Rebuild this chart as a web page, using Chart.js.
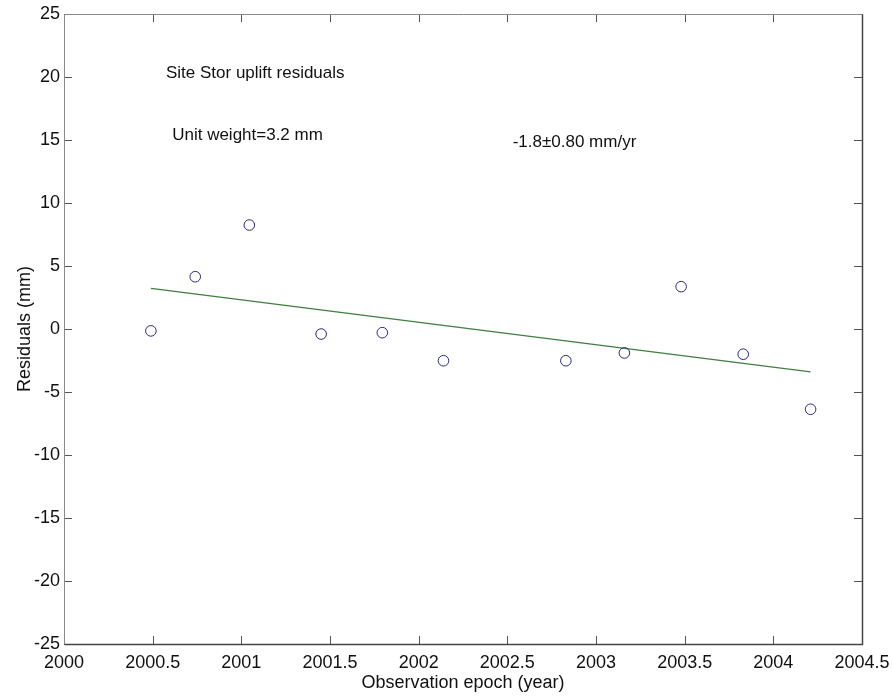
<!DOCTYPE html>
<html>
<head>
<meta charset="utf-8">
<script src="https://cdn.jsdelivr.net/npm/chart.js@4.4.1/dist/chart.umd.min.js"></script>
<style>
  html, body { margin: 0; padding: 0; background: #fff; }
  #wrap { width: 892px; height: 699px; }
</style>
</head>
<body>
<div id="wrap"><canvas id="c" width="892" height="699"></canvas></div>
<script>
// Observation epochs (decimal year) and uplift residuals (mm) for site Stor
const epochs    = [2000.49, 2000.74, 2001.045, 2001.45, 2001.795, 2002.14, 2002.83, 2003.16, 2003.48, 2003.83, 2004.21];
const residuals = [-0.15, 4.15, 8.25, -0.40, -0.29, -2.52, -2.52, -1.90, 3.36, -2.00, -6.37];

// Fitted linear trend, evaluated at the first and last epoch
const trendEpochs = [2000.49, 2004.21];
const trendValues = [3.23, -3.41];

// Axis ticks
const xTicks = [2000, 2000.5, 2001, 2001.5, 2002, 2002.5, 2003, 2003.5, 2004, 2004.5];
const yTicks = [-25, -20, -15, -10, -5, 0, 5, 10, 15, 20, 25];

// Text notes inside the plot, anchored in data coordinates
const noteTexts  = ['Site Stor uplift residuals', 'Unit weight=3.2 mm', '-1.8\u00b10.80 mm/yr'];
const noteEpochs = [2000.575, 2000.61, 2002.53];
const noteValues = [20.3, 15.4, 14.85];

const FONT = '"Liberation Sans", Arial, Helvetica, sans-serif';

const boxAndTicks = {
  id: 'boxAndTicks',
  afterDatasetsDraw(chart) {
    const { ctx, chartArea: a, scales: { x, y } } = chart;
    const len = 8;
    ctx.save();
    ctx.lineWidth = 1;
    // inward tick marks on all four sides
    ctx.strokeStyle = '#555';
    ctx.beginPath();
    x.ticks.forEach((t, i) => {
      const px = Math.round(x.getPixelForTick(i)) + 0.5;
      ctx.moveTo(px, a.bottom); ctx.lineTo(px, a.bottom - len);
      ctx.moveTo(px, a.top);    ctx.lineTo(px, a.top + len);
    });
    y.ticks.forEach((t, i) => {
      const py = Math.round(y.getPixelForTick(i)) + 0.5;
      ctx.moveTo(a.left, py);  ctx.lineTo(a.left + len, py);
      ctx.moveTo(a.right, py); ctx.lineTo(a.right - len, py);
    });
    ctx.stroke();
    // plot box
    const l = Math.round(a.left) + 0.5, r = Math.round(a.right) + 0.5;
    const t = Math.round(a.top) + 0.5, b = Math.round(a.bottom) + 0.5;
    ctx.strokeStyle = '#8a8a8a';
    ctx.beginPath();
    ctx.moveTo(l, b); ctx.lineTo(l, t); ctx.lineTo(r, t);
    ctx.stroke();
    ctx.strokeStyle = '#444';
    ctx.lineWidth = 1.5;
    ctx.beginPath();
    ctx.moveTo(l, b); ctx.lineTo(r, b); ctx.lineTo(r, t);
    ctx.stroke();
    // notes
    ctx.fillStyle = '#111';
    ctx.font = '17px ' + FONT;
    ctx.textAlign = 'left';
    ctx.textBaseline = 'middle';
    noteTexts.forEach((txt, i) => {
      ctx.fillText(txt, x.getPixelForValue(noteEpochs[i]), y.getPixelForValue(noteValues[i]));
    });
    ctx.restore();
  }
};

new Chart(document.getElementById('c'), {
  type: 'scatter',
  data: {
    datasets: [
      {
        label: 'Residuals',
        data: epochs.map((e, i) => ({ x: e, y: residuals[i] })),
        pointStyle: 'circle',
        pointRadius: 5.3,
        pointHoverRadius: 5.3,
        borderWidth: 1,
        borderColor: '#2a2a78',
        backgroundColor: 'rgba(255,255,255,0)',
        showLine: false,
        order: 1
      },
      {
        label: 'Trend',
        data: trendEpochs.map((e, i) => ({ x: e, y: trendValues[i] })),
        showLine: true,
        borderColor: '#3f7f3f',
        borderWidth: 1.2,
        pointRadius: 0,
        pointHoverRadius: 0,
        fill: false,
        order: 2
      }
    ]
  },
  options: {
    responsive: false,
    animation: false,
    devicePixelRatio: 1,
    layout: { padding: { top: 14, right: 30, left: 0, bottom: 0 } },
    plugins: {
      legend: { display: false },
      tooltip: { enabled: false }
    },
    scales: {
      x: {
        type: 'linear',
        min: 2000, max: 2004.5,
        afterBuildTicks: s => { s.ticks = xTicks.map(v => ({ value: v })); },
        afterFit: s => { s.height = 55; s.paddingLeft = 0; s.paddingRight = 0; },
        grid: { display: false, drawTicks: false },
        border: { display: false },
        ticks: {
          color: '#111',
          padding: 8,
          maxRotation: 0,
          autoSkip: false,
          font: { family: FONT, size: 18 },
          callback: v => String(v)
        },
        title: {
          display: true,
          text: 'Observation epoch (year)',
          color: '#111',
          font: { family: FONT, size: 18 },
          padding: { top: 0, bottom: 5 }
        }
      },
      y: {
        type: 'linear',
        min: -25, max: 25,
        afterBuildTicks: s => { s.ticks = yTicks.map(v => ({ value: v })); },
        afterFit: s => { s.width = 64; s.paddingTop = 0; s.paddingBottom = 0; },
        grid: { display: false, drawTicks: false },
        border: { display: false },
        ticks: {
          color: '#111',
          padding: 4,
          autoSkip: false,
          font: { family: FONT, size: 18 },
          callback: v => String(v)
        },
        title: {
          display: true,
          text: 'Residuals (mm)',
          color: '#111',
          font: { family: FONT, size: 18 },
          padding: { top: 14, bottom: 0 }
        }
      }
    }
  },
  plugins: [boxAndTicks]
});
</script>
</body>
</html>
